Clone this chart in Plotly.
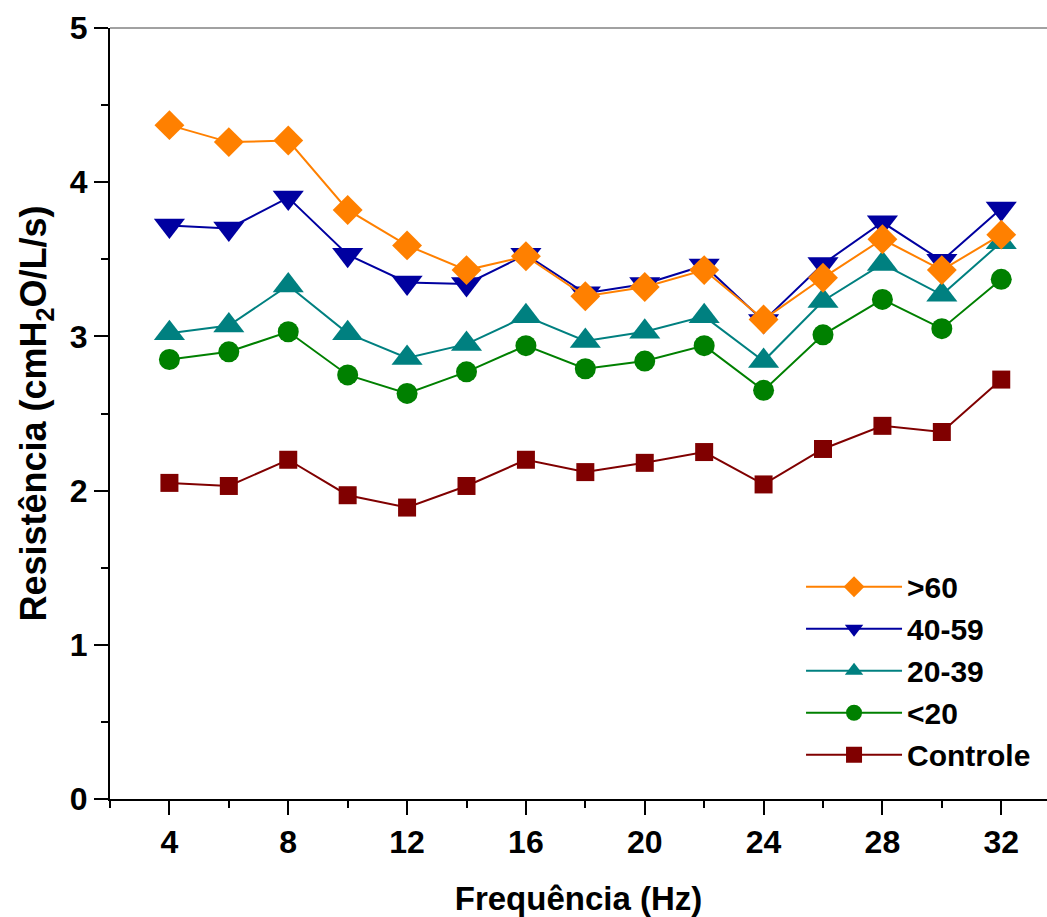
import plotly.graph_objects as go

freq = [4, 6, 8, 10, 12, 14, 16, 18, 20, 22, 24, 26, 28, 30, 32]

g60 = [4.37, 4.26, 4.27, 3.82, 3.59, 3.43, 3.52, 3.26, 3.32, 3.43, 3.11, 3.38, 3.63, 3.43, 3.66]
g40_59 = [3.72, 3.70, 3.90, 3.53, 3.35, 3.34, 3.53, 3.28, 3.34, 3.46, 3.10, 3.47, 3.74, 3.49, 3.83]
g20_39 = [3.02, 3.07, 3.33, 3.02, 2.86, 2.95, 3.13, 2.97, 3.03, 3.13, 2.84, 3.23, 3.47, 3.27, 3.61]
g20 = [2.85, 2.90, 3.03, 2.75, 2.63, 2.77, 2.94, 2.79, 2.84, 2.94, 2.65, 3.01, 3.24, 3.05, 3.37]
controle = [2.05, 2.03, 2.20, 1.97, 1.89, 2.03, 2.20, 2.12, 2.18, 2.25, 2.04, 2.27, 2.42, 2.38, 2.72]

series = [
    ("Controle", controle, "#800000", "square", 18),
    ("<20", g20, "#008000", "circle", 21),
    ("20-39", g20_39, "#008080", "triangle-up", 27),
    ("40-59", g40_59, "#0000A0", "triangle-down", 27),
    (">60", g60, "#FF8000", "diamond", 23),
]

fig = go.Figure()
for name, vals, color, sym, size in series:
    fig.add_trace(go.Scatter(
        x=freq, y=vals, name=name, mode="lines+markers",
        line=dict(color=color, width=2),
        marker=dict(symbol=sym, size=size, color=color),
    ))

font_family = "Liberation Sans, Arial, sans-serif"

fig.update_layout(
    width=1047, height=917,
    margin=dict(l=110, r=0, t=28, b=118),
    plot_bgcolor="white", paper_bgcolor="white",
    font=dict(family=font_family, color="black"),
    showlegend=True,
    legend=dict(
        x=0.7375, y=0.309, xanchor="left", yanchor="top",
        traceorder="reversed",
        font=dict(size=30, family=font_family, weight="bold"),
        itemwidth=96,
        tracegroupgap=0,
        bgcolor="rgba(0,0,0,0)",
    ),
    xaxis=dict(
        range=[2, 33.54],
        automargin=False,
        tickvals=[4, 8, 12, 16, 20, 24, 28, 32],
        ticks="outside", ticklen=14, tickwidth=2, tickcolor="black",
        minor=dict(tick0=2, dtick=4, ticks="outside", ticklen=7, tickwidth=2, tickcolor="black"),
        showline=True, linewidth=2, linecolor="black",
        showgrid=False, zeroline=False,
        tickfont=dict(size=32, family=font_family, weight="bold"),
        title=dict(text="Frequência (Hz)", font=dict(size=33, family=font_family, weight="bold"), standoff=38),
    ),
    yaxis=dict(
        range=[0, 5],
        automargin=False,
        tickvals=[0, 1, 2, 3, 4, 5],
        ticks="outside", ticklen=14, tickwidth=2, tickcolor="black",
        minor=dict(tick0=0, dtick=0.5, ticks="outside", ticklen=7, tickwidth=2, tickcolor="black"),
        showline=True, linewidth=2, linecolor="black",
        showgrid=False, zeroline=False,
        tickfont=dict(size=32, family=font_family, weight="bold"),
        title=dict(text="Resistência (cmH<sub>2</sub>O/L/s)", font=dict(size=36, family=font_family, weight="bold"), standoff=12),
    ),
)

fig.add_shape(type="line", xref="paper", yref="paper", x0=0, x1=1, y0=1, y1=1,
              line=dict(color="#444444", width=1))

fig.write_html("out.html")
